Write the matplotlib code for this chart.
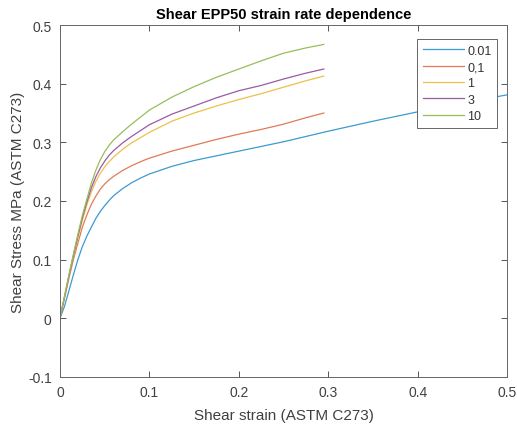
import matplotlib
matplotlib.use('Agg')
import matplotlib.pyplot as plt

plt.rcParams['font.family'] = ['Liberation Sans', 'DejaVu Sans']

# strain points shared by the four short tests
strain = [0, 0.005, 0.01, 0.015, 0.02, 0.025, 0.03, 0.035, 0.04, 0.045, 0.05, 0.055, 0.06,
          0.07, 0.08, 0.09, 0.10, 0.125, 0.15, 0.175, 0.2, 0.225, 0.25, 0.275, 0.295]

stress_01 = [0, 0.034, 0.068, 0.100, 0.128, 0.155, 0.176, 0.194, 0.208, 0.220, 0.229, 0.236, 0.242,
             0.252, 0.260, 0.267, 0.273, 0.285, 0.295, 0.305, 0.314, 0.322, 0.331, 0.342, 0.350]
stress_1 = [0, 0.036, 0.071, 0.105, 0.137, 0.167, 0.193, 0.215, 0.233, 0.247, 0.258, 0.267, 0.275,
            0.288, 0.299, 0.308, 0.317, 0.336, 0.350, 0.362, 0.373, 0.383, 0.394, 0.405, 0.413]
stress_3 = [0, 0.036, 0.072, 0.107, 0.140, 0.171, 0.198, 0.222, 0.241, 0.256, 0.268, 0.278, 0.286,
            0.299, 0.310, 0.320, 0.330, 0.348, 0.362, 0.376, 0.388, 0.397, 0.408, 0.418, 0.425]
stress_10 = [0, 0.037, 0.074, 0.109, 0.143, 0.175, 0.203, 0.230, 0.252, 0.270, 0.284, 0.295, 0.304,
             0.318, 0.331, 0.343, 0.355, 0.377, 0.395, 0.411, 0.425, 0.439, 0.452, 0.461, 0.467]

# slowest rate runs out to 0.5 strain
strain_001 = [0, 0.005, 0.01, 0.015, 0.02, 0.025, 0.03, 0.035, 0.04, 0.045, 0.05, 0.055, 0.06,
              0.07, 0.08, 0.09, 0.10, 0.125, 0.15, 0.175, 0.2, 0.25, 0.3, 0.35, 0.4, 0.45, 0.5]
stress_001 = [0, 0.020, 0.047, 0.074, 0.100, 0.122, 0.140, 0.155, 0.170, 0.182, 0.192, 0.201, 0.209,
              0.221, 0.231, 0.239, 0.246, 0.259, 0.269, 0.277, 0.285, 0.301, 0.319, 0.336, 0.352,
              0.367, 0.381]

labels = ['0.01', '0,1', '1', '3', '10']
colors = ['#3d9ad1', '#e07b55', '#ecc04a', '#9a5aa6', '#96bf5a']

fig = plt.figure(figsize=(5.17, 4.27), dpi=100)
ax = fig.add_axes([0.116, 0.115, 0.865, 0.824])

ax.plot(strain_001, stress_001, color=colors[0], lw=0.9, label=labels[0])
for ys, c, lab in zip([stress_01, stress_1, stress_3, stress_10], colors[1:], labels[1:]):
    ax.plot(strain, ys, color=c, lw=0.9, label=lab)

ax.set_xlim(0, 0.5)
ax.set_ylim(-0.1, 0.5)
ax.set_xticks([0, 0.1, 0.2, 0.3, 0.4, 0.5])
ax.set_xticklabels(['0', '0.1', '0.2', '0.3', '0.4', '0.5'])
ax.set_yticks([-0.1, 0, 0.1, 0.2, 0.3, 0.4, 0.5])
ax.set_yticklabels(['-0.1', '0', '0.1', '0.2', '0.3', '0.4', '0.5'])

ax.tick_params(direction='in', length=4, width=0.7, top=True, right=True,
               labelsize=10, colors='#555555', labelcolor='#404040', pad=6)
for s in ax.spines.values():
    s.set_color('#666666')
    s.set_linewidth(0.7)

ax.set_xlabel('Shear strain (ASTM C273)', fontsize=11, color='#404040', labelpad=6)
ax.set_ylabel('Shear Stress MPa (ASTM C273)', fontsize=11, color='#404040', labelpad=2)
ax.set_title('Shear EPP50 strain rate dependence', fontsize=10.5, fontweight='bold', pad=5)

leg = ax.legend(loc='upper right', bbox_to_anchor=(0.978, 0.96), fontsize=9,
                handlelength=3.3, handletextpad=0.25, labelspacing=0.35,
                borderpad=0.45, borderaxespad=0, fancybox=False, framealpha=1)
leg.get_frame().set_edgecolor('#666666')
leg.get_frame().set_linewidth(0.7)
for t in leg.get_texts():
    t.set_color('#333333')

fig.savefig('out.png', dpi=100)
